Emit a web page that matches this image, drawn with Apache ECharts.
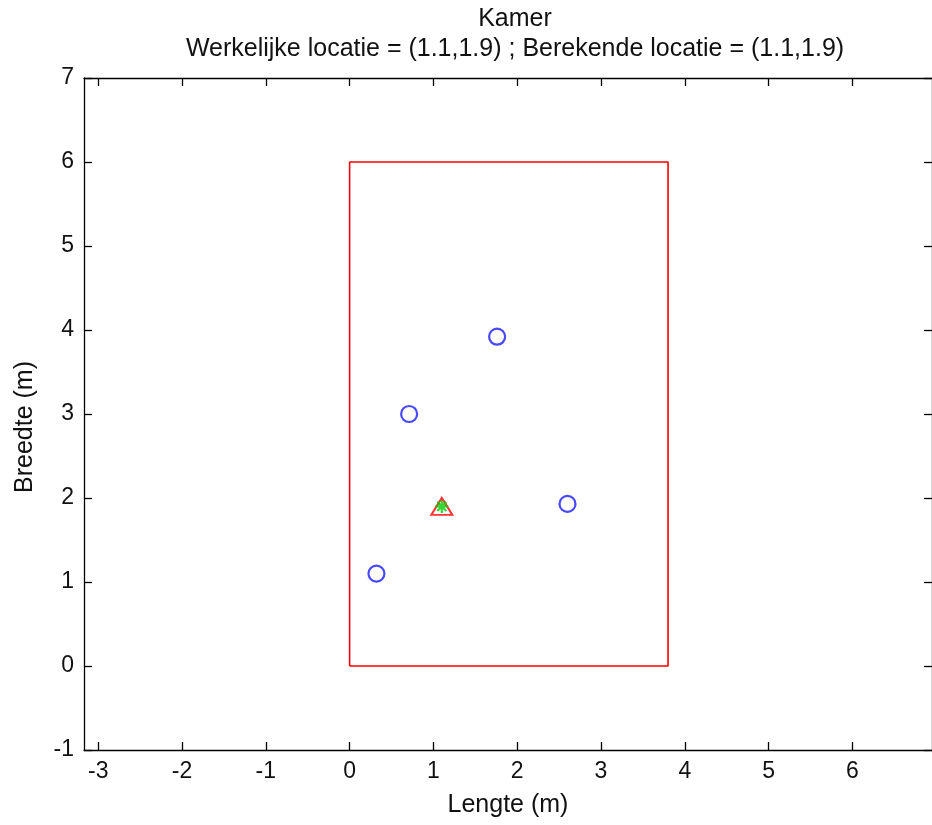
<!DOCTYPE html>
<html>
<head>
<meta charset="utf-8">
<script src="https://cdn.jsdelivr.net/npm/echarts@6/dist/echarts.min.js"></script>
<style>
  html, body { margin: 0; padding: 0; background: #fff; }
  #chart { width: 932px; height: 825px; }
</style>
</head>
<body>
<div id="chart"></div>
<script>
// Room outline (m)
var roomOutline = [[0, 0], [3.8, 0], [3.8, 6], [0, 6], [0, 0]];
// Reference beacons (m)
var beacons = [[0.32, 1.1], [0.71, 3.0], [1.76, 3.92], [2.6, 1.93]];
// Actual and computed positions (m)
var actualPos = [[1.1, 1.9]];
var computedPos = [[1.1, 1.9]];

var xMin = -3.17, xMax = 6.95;
var yMin = -1, yMax = 7;
var xTicks = [-3, -2, -1, 0, 1, 2, 3, 4, 5, 6];

var fmt = function (v) { return v.toFixed(1); };
var titleLines = [
  'Kamer',
  'Werkelijke locatie = (' + fmt(actualPos[0][0]) + ',' + fmt(actualPos[0][1]) + ') ; Berekende locatie = (' +
    fmt(computedPos[0][0]) + ',' + fmt(computedPos[0][1]) + ')'
];

var FONT = 'Liberation Sans';
var TICK_FS = 23;
var LABEL_FS = 25;
var TEXT_COLOR = '#111';
var pxPerUnit = 84;
var gridLeft = 84, gridTop = 78;
var gridW = (xMax - xMin) * pxPerUnit;
var gridH = (yMax - yMin) * pxPerUnit;

var chart = echarts.init(document.getElementById('chart'), null, { renderer: 'canvas' });

var lineStyle = { color: '#000', width: 1.3 };

function xAxis(pos, show) {
  return {
    type: 'value', position: pos, min: xMin, max: xMax,
    axisLine: { show: true, onZero: false, lineStyle: lineStyle },
    axisTick: { show: true, inside: true, length: 8, customValues: xTicks, lineStyle: lineStyle },
    splitLine: { show: false },
    axisLabel: {
      show: show, color: TEXT_COLOR, fontFamily: FONT, fontSize: TICK_FS, margin: 10,
      customValues: xTicks
    },
    name: show ? 'Lengte (m)' : '',
    nameLocation: 'middle', nameGap: 43,
    nameTextStyle: { color: TEXT_COLOR, fontFamily: FONT, fontSize: LABEL_FS }
  };
}

function yAxis(pos, show) {
  return {
    type: 'value', position: pos, min: yMin, max: yMax, interval: 1,
    axisLine: { show: true, onZero: false, lineStyle: lineStyle },
    axisTick: { show: true, inside: true, length: 8, lineStyle: lineStyle },
    splitLine: { show: false },
    axisLabel: { show: show, color: TEXT_COLOR, fontFamily: FONT, fontSize: TICK_FS, margin: 10 }
  };
}

var option = {
  animation: false,
  backgroundColor: '#fff',
  title: {
    text: titleLines.join('\n'),
    left: 510, top: -1, textAlign: 'center',
    textStyle: { color: TEXT_COLOR, fontFamily: FONT, fontSize: LABEL_FS, fontWeight: 'normal', lineHeight: 30, align: 'center' }
  },
  graphic: [{
    type: 'text',
    x: 25, y: 427, rotation: Math.PI / 2,
    style: {
      text: 'Breedte (m)', fill: TEXT_COLOR, font: LABEL_FS + 'px "' + FONT + '"',
      align: 'center', verticalAlign: 'middle'
    }
  }],
  grid: { left: gridLeft, top: gridTop, width: gridW, height: gridH, containLabel: false },
  xAxis: [xAxis('bottom', true), xAxis('top', false)],
  yAxis: [yAxis('left', true), yAxis('right', false)],
  series: [
    {
      name: 'Kamer', type: 'line', data: roomOutline,
      symbol: 'none', lineStyle: { color: '#ff0000', width: 1.6 },
      silent: true
    },
    {
      name: 'Bakens', type: 'scatter', data: beacons,
      symbol: 'circle', symbolSize: 16,
      itemStyle: { color: 'rgba(0,0,0,0)', borderColor: '#1a1aff', borderWidth: 2.2 }
    },
    {
      name: 'Werkelijk', type: 'scatter', data: actualPos,
      symbol: 'triangle', symbolSize: [21, 17],
      itemStyle: { color: 'rgba(0,0,0,0)', borderColor: '#ff0000', borderWidth: 2 }
    },
    {
      name: 'Berekend', type: 'scatter', data: computedPos,
      symbol: 'path://M0,-10L0,10M-10,0L10,0M-7,-7L7,7M-7,7L7,-7', symbolSize: 13,
      itemStyle: { color: 'rgba(0,0,0,0)', borderColor: '#00cc00', borderWidth: 2.2 }
    }
  ]
};

chart.setOption(option);
</script>
</body>
</html>
